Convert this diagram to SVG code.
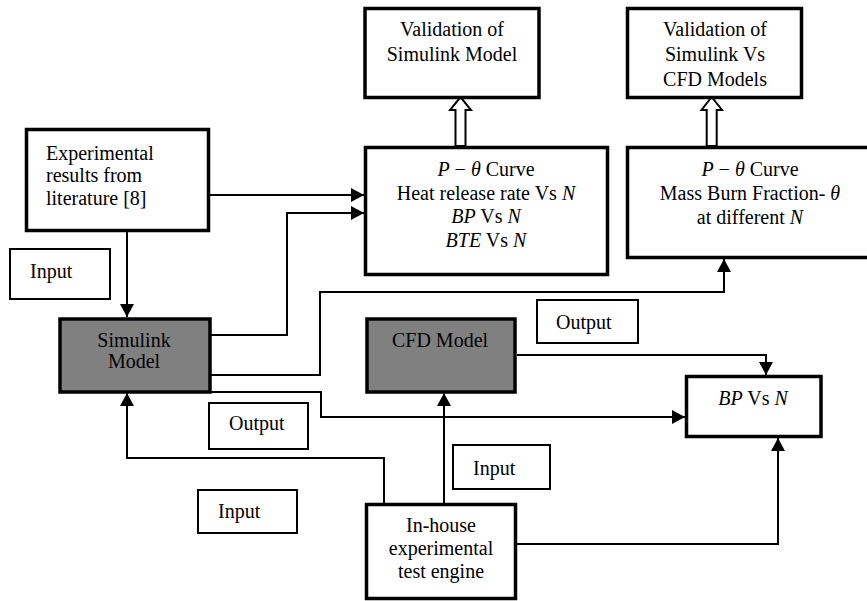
<svg xmlns="http://www.w3.org/2000/svg" width="867" height="601" viewBox="0 0 867 601">
<style>
text{font-family:"Liberation Serif","Times New Roman",serif;font-size:20px;fill:#000}
.c{text-anchor:middle}
.i{font-style:italic}
.box{fill:#fff;stroke:#000;stroke-width:3.5}
.gray{fill:#808080;stroke:#000;stroke-width:3.5}
.lab{fill:#fff;stroke:#000;stroke-width:2}
.con{fill:none;stroke:#000;stroke-width:2}
.hollow{fill:#fff;stroke:#000;stroke-width:2;stroke-linejoin:miter}
</style>
<defs>
<marker id="ah" markerUnits="userSpaceOnUse" markerWidth="14" markerHeight="14" refX="13" refY="7" orient="auto">
<path d="M0,0 L13,7 L0,14 z" fill="#000"/>
</marker>
</defs>

<g id="connectors">
<path class="con" d="M210,195 H364" marker-end="url(#ah)"/>
<path class="con" d="M211,335 H287 V213 H364" marker-end="url(#ah)"/>
<path class="con" d="M211,375 H320 V292 H724 V259" marker-end="url(#ah)"/>
<path class="con" d="M211,392 H321 V417 H685" marker-end="url(#ah)"/>
<path class="con" d="M127,232 V317" marker-end="url(#ah)"/>
<path class="con" d="M384,503 V458 H127 V393" marker-end="url(#ah)"/>
<path class="con" d="M444,503 V393" marker-end="url(#ah)"/>
<path class="con" d="M517,355 H766 V375" marker-end="url(#ah)"/>
<path class="con" d="M517,544 H778 V438" marker-end="url(#ah)"/>
<polygon class="hollow" points="455.5,146 455.5,110 450,110 460.5,97 471,110 465.5,110 465.5,146"/>
<polygon class="hollow" points="706.7,146 706.7,110 701.5,110 711.7,97 722,110 716.7,110 716.7,146"/>
</g>

<g id="exp-lit">
<rect class="box" x="26.5" y="129.5" width="182" height="101"/>
<text x="46" y="160">Experimental</text>
<text x="46" y="182">results from</text>
<text x="46" y="205">literature [8]</text>
</g>

<g id="input-top">
<rect class="lab" x="10" y="249" width="100" height="50"/>
<text x="30" y="278">Input</text>
</g>

<g id="simulink">
<rect class="gray" x="60" y="319" width="150" height="73"/>
<text class="c" x="134" y="347">Simulink</text>
<text class="c" x="134" y="368">Model</text>
</g>

<g id="cfd">
<rect class="gray" x="367" y="319" width="148" height="73"/>
<text class="c" x="440" y="347">CFD Model</text>
</g>

<g id="val-simulink">
<rect class="box" x="365" y="8.5" width="174" height="89"/>
<text class="c" x="452" y="36">Validation of</text>
<text class="c" x="452" y="61">Simulink Model</text>
</g>

<g id="val-cfd">
<rect class="box" x="627.5" y="8.5" width="174" height="89"/>
<text class="c" x="715" y="36">Validation of</text>
<text class="c" x="715" y="61">Simulink Vs</text>
<text class="c" x="715" y="86">CFD Models</text>
</g>

<g id="results-simulink">
<rect class="box" x="365.5" y="147.5" width="242" height="127"/>
<text class="c" x="486" y="176"><tspan class="i">P</tspan> − <tspan class="i">θ</tspan> Curve</text>
<text class="c" x="486" y="200">Heat release rate Vs <tspan class="i">N</tspan></text>
<text class="c" x="486" y="223"><tspan class="i">BP</tspan> Vs <tspan class="i">N</tspan></text>
<text class="c" x="486" y="247"><tspan class="i">BTE</tspan> Vs <tspan class="i">N</tspan></text>
</g>

<g id="results-compare">
<rect class="box" x="627.5" y="147.5" width="250" height="110"/>
<text class="c" x="750" y="176"><tspan class="i">P</tspan> − <tspan class="i">θ</tspan> Curve</text>
<text class="c" x="750" y="200">Mass Burn Fraction- <tspan class="i">θ</tspan></text>
<text class="c" x="750" y="224">at different <tspan class="i">N</tspan></text>
</g>

<g id="bp-vs-n">
<rect class="box" x="686.5" y="376.5" width="134.5" height="60"/>
<text class="c" x="753" y="405"><tspan class="i">BP</tspan> Vs <tspan class="i">N</tspan></text>
</g>

<g id="inhouse">
<rect class="box" x="366.5" y="504.5" width="149" height="94"/>
<text class="c" x="441" y="532">In-house</text>
<text class="c" x="441" y="555">experimental</text>
<text class="c" x="441" y="578">test engine</text>
</g>

<g id="output-right">
<rect class="lab" x="537" y="300" width="101" height="43"/>
<text x="556" y="329">Output</text>
</g>

<g id="output-left">
<rect class="lab" x="209" y="403" width="99" height="46"/>
<text x="229" y="430">Output</text>
</g>

<g id="input-mid">
<rect class="lab" x="453" y="445" width="97" height="44"/>
<text x="473" y="475">Input</text>
</g>

<g id="input-low">
<rect class="lab" x="198" y="490" width="99" height="43"/>
<text x="218" y="518">Input</text>
</g>
</svg>
